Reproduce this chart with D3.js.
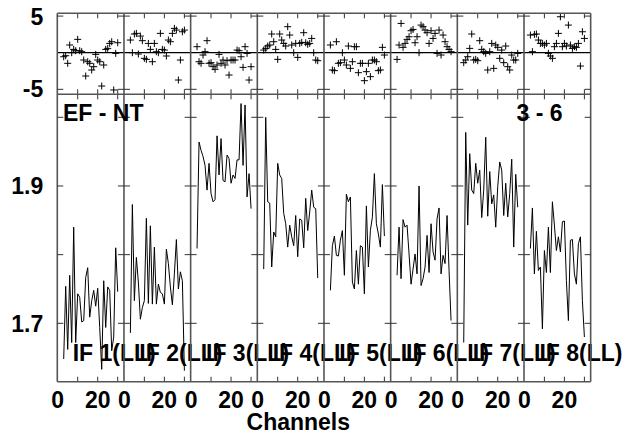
<!doctype html>
<head>
<meta charset="utf-8">
<script src="https://cdn.jsdelivr.net/npm/d3@7/dist/d3.min.js"></script>
<style>
body{
  margin: 0;
  background: #fff;
}
text{
  font-family: "Liberation Sans", Arial, sans-serif;
  font-weight: bold;
  font-size: 23px;
  fill: #000;
}
</style>
</head>
<body>
<script>

// IF names, one panel each
var ifNames = ["IF 1(LL)", "IF 2(LL)", "IF 3(LL)", "IF 4(LL)", "IF 5(LL)", "IF 6(LL)", "IF 7(LL)", "IF 8(LL)"];
var firstChan = 3;

// amplitude per channel (channels 3..30)
var amp1 = [1.648,1.754,1.662,1.770,1.672,1.840,1.672,1.743,1.738,1.702,1.704,1.767,1.781,1.709,1.733,1.748,1.725,1.751,1.694,1.633,1.762,1.694,1.753,1.748,1.660,1.680,1.810,1.746];
var amp2 = [1.686,1.873,1.733,1.796,1.760,1.706,1.723,1.733,1.853,1.729,1.842,1.728,1.811,1.728,1.757,1.745,1.743,1.728,1.808,1.787,1.753,1.727,1.772,1.822,1.750,1.775,1.762,1.631];
var amp3 = [1.809,1.964,1.952,1.943,1.930,1.894,1.933,1.889,1.877,1.880,1.973,1.916,1.969,1.908,1.906,1.945,1.940,1.904,1.916,1.911,1.938,1.938,2.020,1.930,2.018,1.884,1.918,1.867];
var amp4 = [1.779,2.000,1.877,1.875,1.782,1.833,1.826,1.933,1.916,1.911,1.860,1.845,1.811,1.843,1.826,1.813,1.857,1.797,1.852,1.850,1.810,1.882,1.835,1.862,1.894,1.869,1.867,1.766];
var amp5 = [1.748,1.813,1.827,1.799,1.798,1.821,1.835,1.770,1.888,1.877,1.884,1.760,1.750,1.806,1.757,1.813,1.811,1.743,1.871,1.782,1.835,1.855,1.918,1.845,1.830,1.811,1.902,1.827];
var amp6 = [1.770,1.840,1.765,1.851,1.840,1.843,1.801,1.757,1.779,1.801,1.772,1.900,1.755,1.765,1.782,1.828,1.774,1.845,1.804,1.792,1.852,1.868,1.772,1.799,1.787,1.857,1.777,1.704];
var amp7 = [1.672,1.978,1.843,1.947,1.894,1.889,1.933,1.904,1.923,1.854,1.894,1.971,1.856,1.921,1.874,1.887,1.840,1.899,1.935,1.923,1.857,1.904,1.855,1.889,1.939,1.811,1.917,1.869];
var amp8 = [1.809,1.868,1.772,1.834,1.777,1.782,1.692,1.806,1.774,1.840,1.774,1.877,1.843,1.806,1.826,1.804,1.848,1.849,1.762,1.704,1.821,1.822,1.772,1.757,1.816,1.826,1.733,1.680];

// residuals per channel (channels 3..30)
var res1 = [-0.55,-0.41,-1.45,1.05,0,0.45,0.27,1.82,0.27,0.14,-1.0,-3.18,-1.23,-1.45,-2.36,-1.91,-0.23,-1.0,-1.23,-4.55,-1.68,0.45,0.59,1.27,1.5,-5.09,-0.09,1.36];
var res2 = [1.73,0,2.55,2.64,-0.18,2.27,1.64,-0.77,-0.91,1.27,0.45,-1.23,1.27,0.14,0,2.64,0.45,0.36,-0.45,1.73,1.5,2.64,3.32,3.09,-3.73,-1.0,2.86,3.09];
var res3 = [0.82,-1.23,-1.45,-0.32,0.14,1.64,-1.45,-1.36,-1.91,-2.27,-1.68,-0.23,-1.45,-1.0,-1.68,-1.09,-3.05,-1.0,-1.0,-1.0,0.36,0.27,-0.55,-2.0,0.82,-0.09,-3.73,-1.91];
var res4 = [0.36,0.59,0.91,1.05,2.55,1.5,0.45,-0.91,2.55,1.73,1.27,0.91,3.55,2.41,1.05,0,1.27,-0.64,1.27,1.41,2.73,1.36,1.14,1.27,1.95,0,-1.0,-1.09];
var res5 = [1.05,-2.36,-2.45,1.5,-1.45,-1.36,0,-1.0,-1.68,0.91,-2.14,-1.23,0.82,0.82,-2.73,-1.45,-1.45,-3.82,-2.59,-1.45,-3.27,-1.0,-1.0,-1.23,-2.45,-2.36,0.73,-0.32];
var res6 = [-0.91,1.05,4.0,0.73,1.27,1.82,2.18,3.0,3.18,1.36,2.18,0,3.77,3.55,3.09,2.73,1.27,3.0,1.95,2.64,-0.09,3.09,-0.32,2.41,1.5,0.82,0.45,0.14];
var res7 = [-1.36,-1.0,-0.55,0.59,2.55,-1.0,-0.91,-1.09,1.64,0.45,0.14,-0.09,-2.36,0.14,1.27,-2.14,1.05,0.73,-0.77,0.36,-1.36,0.91,-1.91,-2.36,-0.32,-1.0,-1.0,-0.09];
var res8 = [2.41,0.14,2.5,2.55,1.73,1.27,1.27,1.05,1.27,-0.09,-0.45,-0.77,0.82,1.27,2.64,4.91,0.82,1.27,0.91,3.77,1.05,0.59,0.82,0.73,1.27,-1.82,2.86,1.95];

var amps = [amp1, amp2, amp3, amp4, amp5, amp6, amp7, amp8];
var resids = [res1, res2, res3, res4, res5, res6, res7, res8];

var ampTicks = [1.7, 1.8, 1.9, 2.0];
var ampLabels = [1.7, 1.9];
var resTicks = [-5, 5];
var resLabels = [-5, 5];
var chanTicks = [10, 20, 30];
var chanLabels = [0, 20];

var left = 57.3, pw = 66.67;
var topY = 13.3, midY = 94.3, botY = 381.7;
var right = left + pw * ifNames.length;

var x = d3.scaleLinear().domain([-0.2, 33.13]).range([0, pw]);
var yR = d3.scaleLinear().domain([-5.68, 5.38]).range([midY, topY]);
var yA = d3.scaleLinear().domain([1.615, 2.0335]).range([botY, midY]);

var svg = d3.select("body").append("svg")
  .attr("width", 628)
  .attr("height", 435);

var line = d3.line()
  .x((d, i) => x(firstChan + i))
  .y(d => yA(d));

ifNames.forEach((name, p) => {
  var g = svg.append("g").attr("transform", "translate(" + (left + p * pw) + ",0)");

  // zero line of residuals
  g.append("line")
    .attr("x1", 0).attr("x2", pw)
    .attr("y1", yR(0)).attr("y2", yR(0))
    .style("stroke", "#000").style("stroke-width", 1.2);

  // residual crosses
  g.selectAll(".cross").data(resids[p]).enter().append("path")
    .attr("transform", (d, i) => "translate(" + x(firstChan + i) + "," + yR(d) + ")")
    .attr("d", "M-3.5,0h7M0,-3.5v7")
    .style("stroke", "#000").style("stroke-width", 1);

  // amplitude line
  g.append("path")
    .datum(amps[p])
    .attr("d", line)
    .style("fill", "none").style("stroke", "#000").style("stroke-width", 1);

  // x ticks
  chanTicks.forEach(c => {
    [[botY, -5], [midY, 5], [midY, -5], [topY, 5]].forEach(t => {
      g.append("line")
        .attr("x1", x(c)).attr("x2", x(c))
        .attr("y1", t[0]).attr("y2", t[0] + t[1])
        .style("stroke", "#333").style("stroke-width", 1);
    });
  });

  chanLabels.forEach(c => {
    g.append("text")
      .attr("x", x(c)).attr("y", 408)
      .attr("text-anchor", "middle")
      .text(c);
  });

  g.append("text")
    .attr("x", 15.4).attr("y", 361)
    .text(name);
});

// panel borders and y ticks
d3.range(ifNames.length + 1).forEach(i => {
  var bx = left + i * pw;
  svg.append("line")
    .attr("x1", bx).attr("x2", bx)
    .attr("y1", topY).attr("y2", botY)
    .style("stroke", "#555").style("stroke-width", 1.6);
  var a = i == 0 ? 0 : -6, b = i == ifNames.length ? 0 : 6;
  ampTicks.forEach(v => {
    svg.append("line")
      .attr("x1", bx + a).attr("x2", bx + b)
      .attr("y1", yA(v)).attr("y2", yA(v))
      .style("stroke", "#333").style("stroke-width", 1);
  });
  resTicks.forEach(v => {
    svg.append("line")
      .attr("x1", bx + a).attr("x2", bx + b)
      .attr("y1", yR(v)).attr("y2", yR(v))
      .style("stroke", "#333").style("stroke-width", 1);
  });
});

[topY, midY, botY].forEach(y => {
  svg.append("line")
    .attr("x1", left).attr("x2", right)
    .attr("y1", y).attr("y2", y)
    .style("stroke", "#555").style("stroke-width", 1.6);
});

ampLabels.forEach(v => {
  svg.append("text")
    .attr("x", 43.3).attr("y", yA(v)).attr("dy", "0.36em")
    .attr("text-anchor", "end")
    .text(d3.format(".1f")(v));
});
resLabels.forEach(v => {
  svg.append("text")
    .attr("x", 43.3).attr("y", v > 0 ? 25 : 96.7)
    .attr("text-anchor", "end")
    .text(v);
});

svg.append("text").attr("x", 63).attr("y", 121).text("EF - NT");
svg.append("text").attr("x", 562.5).attr("y", 121).attr("text-anchor", "end").text("3 - 6");
svg.append("text").attr("x", 298.3).attr("y", 429.5).attr("text-anchor", "middle").text("Channels");

</script>
</body>
</html>
